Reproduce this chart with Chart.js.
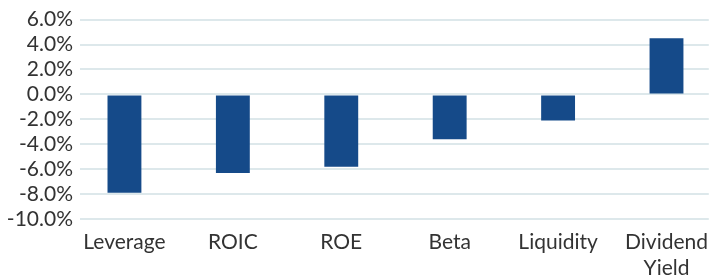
<!DOCTYPE html>
<html>
<head>
<meta charset="utf-8">
<script src="https://cdn.jsdelivr.net/npm/chart.js@4/dist/chart.umd.min.js"></script>
<style>
  html, body { margin: 0; padding: 0; background: #fff; }
  #wrap { width: 711px; height: 279px; }
</style>
</head>
<body>
<div id="wrap"><canvas id="factorChart"></canvas></div>
<script>
// factor names (last one wraps to two lines)
var categories = ['Leverage', 'ROIC', 'ROE', 'Beta', 'Liquidity', ['Dividend', 'Yield']];
var values = [-7.9, -6.3, -5.8, -3.6, -2.1, 4.5];
var yTicks = [-10, -8, -6, -4, -2, 0, 2, 4, 6];

var points = values.map(function (v, i) { return { x: i, y: v }; });

var factorChart = new Chart("factorChart", {
    type: "bar",
    data: {
        datasets: [{
            data: points,
            backgroundColor: "#154a89",
            borderWidth: 0,
            barPercentage: 0.3125,
            categoryPercentage: 1
        }]
    },
    options: {
        responsive: true,
        maintainAspectRatio: false,
        animation: false,
        layout: { padding: { top: 8, bottom: 0, left: 0, right: 0 } },
        plugins: {
            legend: { display: false },
            tooltip: { enabled: false }
        },
        scales: {
            x: {
                type: "linear",
                offset: false,
                min: -0.41,
                max: 5.39,
                afterBuildTicks: function (scale) {
                    scale.ticks = categories.map(function (c, i) { return { value: i }; });
                },
                afterFit: function (scale) { scale.height = 60; },
                grid: { display: false, offset: false },
                border: { display: false },
                ticks: {
                    autoSkip: false,
                    maxRotation: 0,
                    padding: 3,
                    color: "#333333",
                    font: { family: "Lato", size: 21, lineHeight: 1.2 },
                    callback: function (v) { return categories[v]; }
                }
            },
            y: {
                min: yTicks[0],
                max: yTicks[yTicks.length - 1],
                afterBuildTicks: function (scale) {
                    scale.ticks = yTicks.map(function (v) { return { value: v }; });
                },
                afterFit: function (scale) { scale.width = 80; },
                grid: { color: "#dde8eb", lineWidth: 2, drawTicks: false },
                border: { display: false },
                ticks: {
                    autoSkip: false,
                    padding: 7,
                    color: "#333333",
                    font: { family: "Lato", size: 21 },
                    callback: function (v) { return v.toFixed(1) + '%'; }
                }
            }
        }
    }
});
</script>
</body>
</html>
